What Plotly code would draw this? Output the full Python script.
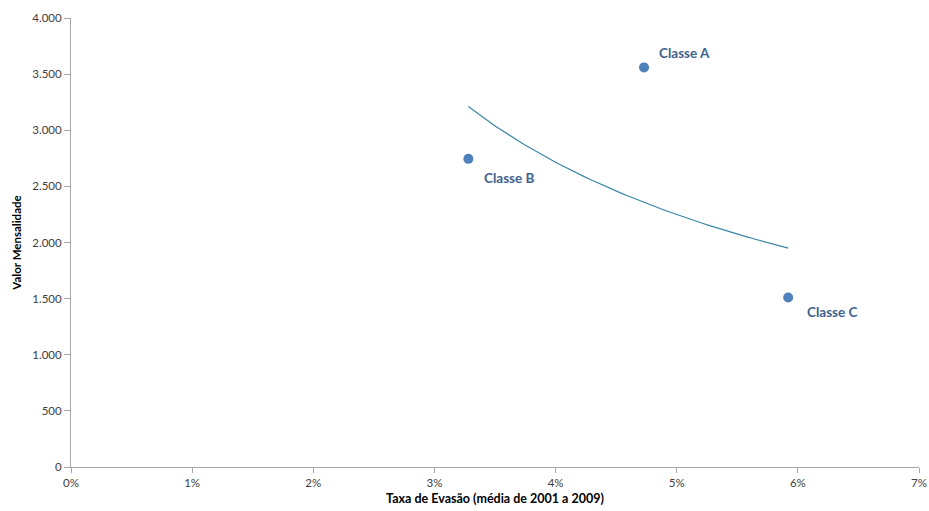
import numpy as np
import plotly.graph_objects as go

# Data
classes = ["Classe A", "Classe B", "Classe C"]
evasao = [0.0473, 0.0328, 0.0592]      # taxa de evasão (fração)
mensalidade = [3560, 2745, 1510]       # valor mensalidade

x_tick_vals = [0, 0.01, 0.02, 0.03, 0.04, 0.05, 0.06, 0.07]
y_tick_vals = [0, 500, 1000, 1500, 2000, 2500, 3000, 3500, 4000]

# Power trendline (as Excel: y = a * x^b), fitted on the data
lx = np.log(np.array(evasao))
ly = np.log(np.array(mensalidade))
b, lna = np.polyfit(lx, ly, 1)
tx = np.linspace(min(evasao), max(evasao), 80)
ty = np.exp(lna) * tx ** b

FONT = "Lato, 'Open Sans', sans-serif"

fig = go.Figure()
fig.add_trace(go.Scatter(x=tx, y=ty, mode="lines",
                         line=dict(color="#3A86A6", width=1.2),
                         hoverinfo="skip", showlegend=False))
fig.add_trace(go.Scatter(x=evasao, y=mensalidade, mode="markers",
                         marker=dict(color="#4F81BD", size=10),
                         showlegend=False))

offsets = {"Classe A": (13, 14), "Classe B": (14, -19), "Classe C": (17, -14)}
for name, xv, yv in zip(classes, evasao, mensalidade):
    dx, dy = offsets[name]
    fig.add_annotation(x=xv, y=yv, text="<b>%s</b>" % name, showarrow=False,
                       xanchor="left", yanchor="middle", xshift=dx, yshift=dy,
                       font=dict(family=FONT, size=13.5, color="#3E5F8C"))

fig.update_layout(
    width=929, height=511,
    margin=dict(l=71, r=10, t=18, b=44, autoexpand=False),
    paper_bgcolor="white", plot_bgcolor="white",
    separators=",.",
    font=dict(family=FONT, size=11.5, color="#404040"),
    xaxis=dict(range=[0, 0.07], tickvals=x_tick_vals, tickformat=".0%",
               showgrid=False, zeroline=False, showline=True, linecolor="#A6A6A6",
               linewidth=1, ticks="outside", ticklen=5, tickcolor="#A6A6A6",
               tickfont=dict(size=11.5, color="#404040"), automargin=False,
               title=dict(text="<b>Taxa de Evasão (média de 2001 a 2009)</b>",
                          font=dict(size=12.5, color="#000000"), standoff=6)),
    yaxis=dict(range=[0, 4000], tickvals=y_tick_vals, tickformat=",d",
               showgrid=False, zeroline=False, showline=True, linecolor="#A6A6A6",
               linewidth=1, ticks="outside", ticklen=6, tickcolor="#A6A6A6",
               tickfont=dict(size=11.5, color="#404040"), automargin=False,
               title=dict(text="<b>Valor Mensalidade</b>",
                          font=dict(size=11.5, color="#000000"), standoff=8)),
)

fig.write_html("out.html", config={"displayModeBar": False},
               post_script="document.body.style.margin='0';document.body.style.overflow='hidden';")
